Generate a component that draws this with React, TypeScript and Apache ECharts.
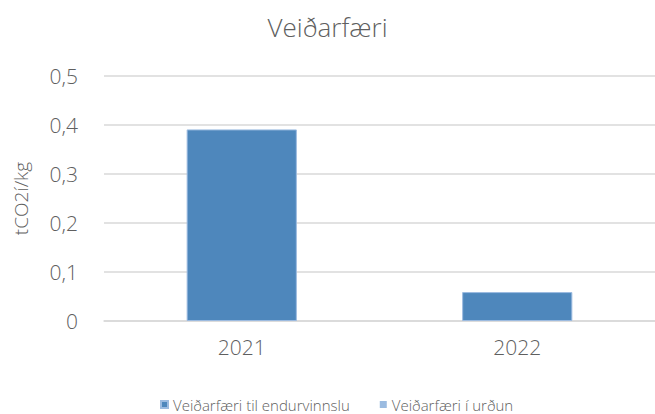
import React, { useEffect, useRef } from "react";
import * as echarts from "echarts";

const categories = ["2021", "2022"];
const seriesNames = ["Veiðarfæri til endurvinnslu", "Veiðarfæri í urðun"];
const recycledValues = [0.391, 0.059];
const landfillValues = [0, 0];
const yTicks = [0, 0.1, 0.2, 0.3, 0.4, 0.5];

const FONT = "'Open Sans', 'Noto Sans', sans-serif";
const GREY = "#5f5f5f";

export default function App() {
  const ref = useRef<HTMLDivElement>(null);
  useEffect(() => {
    if (!ref.current) return;
    const chart = echarts.init(ref.current, null, { renderer: "svg" });
    chart.setOption({
      animation: false,
      backgroundColor: "#ffffff",
      title: {
        text: "Veiðarfæri",
        left: "center",
        top: 9,
        textStyle: { fontFamily: FONT, fontSize: 26, fontWeight: 300, color: GREY },
      },
      legend: {
        bottom: -3,
        left: 155,
        icon: "rect",
        itemWidth: 7,
        itemHeight: 7,
        itemGap: 30,
        data: seriesNames,
        textStyle: { fontFamily: FONT, fontSize: 15, fontWeight: 300, color: GREY },
      },
      grid: { left: 104, right: -4, top: 76, bottom: 93 },
      xAxis: {
        type: "category",
        data: categories,
        axisLine: { lineStyle: { color: "#d9d9d9", width: 1.5 } },
        axisTick: { show: false },
        axisLabel: { fontFamily: FONT, fontSize: 21, fontWeight: 300, color: GREY, margin: 15 },
      },
      yAxis: {
        type: "value",
        min: yTicks[0],
        max: yTicks[yTicks.length - 1],
        interval: 0.1,
        name: "tCO2í/kg",
        nameLocation: "middle",
        nameGap: 74,
        nameTextStyle: { fontFamily: FONT, fontSize: 19, fontWeight: 300, color: GREY },
        axisLine: { show: false },
        axisTick: { show: false },
        splitLine: { lineStyle: { color: "#d9d9d9", width: 1.5 } },
        axisLabel: {
          fontFamily: FONT,
          fontSize: 21,
          fontWeight: 300,
          color: GREY,
          margin: 26,
          formatter: (v: number) => (v === 0 ? "0" : v.toFixed(1).replace(".", ",")),
        },
      },
      series: [
        {
          name: seriesNames[0],
          type: "bar",
          stack: "total",
          barWidth: "40%",
          data: recycledValues,
          itemStyle: { color: "#4e87bc", borderColor: "#9cbbe0", borderWidth: 1 },
        },
        {
          name: seriesNames[1],
          type: "bar",
          stack: "total",
          barWidth: "40%",
          data: landfillValues,
          itemStyle: { color: "#9bbbe0" },
        },
      ],
    });
    return () => chart.dispose();
  }, []);
  return (
    <div
      ref={ref}
      style={{ position: "absolute", left: 0, top: 0, width: 655, height: 414 }}
    />
  );
}
